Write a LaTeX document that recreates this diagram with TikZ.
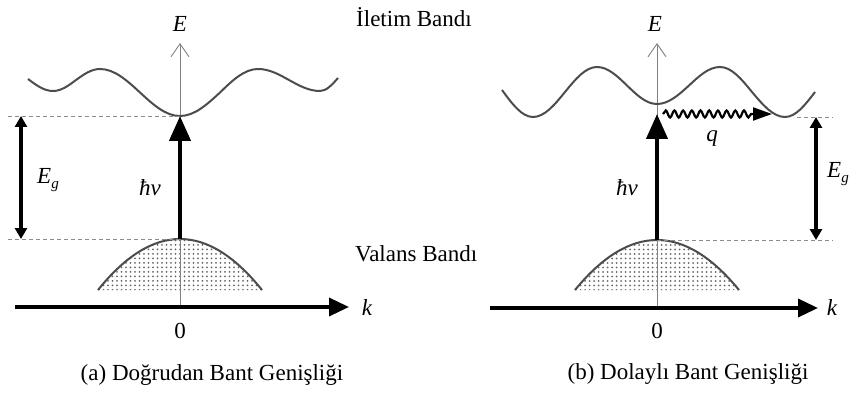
\documentclass[tikz,border=0pt]{standalone}
\usepackage{fontspec}
\setmainfont{Liberation Serif}
\usetikzlibrary{arrows.meta,patterns.meta,decorations.pathmorphing}
\begin{document}
\begin{tikzpicture}[x=1pt,y=-1pt,
  lbl/.style={font=\fontsize{23}{27}\selectfont, inner sep=0pt},
  mlbl/.style={font=\fontsize{23}{27}\selectfont\itshape, inner sep=0pt},
  band/.style={line width=2pt, draw=black!70},
  eaxis/.style={draw=black!50, line width=0.9pt, -{Straight Barb[length=13pt,width=18pt,line width=0.9pt]}},
  kaxis/.style={line width=3.5pt, -{Triangle[length=20pt,width=18pt]}},
  photon/.style={line width=4.2pt, -{Triangle[length=25pt,width=21pt]}},
  gaparrow/.style={line width=3.2pt, {Triangle[length=11pt,width=12pt]}-{Triangle[length=11pt,width=12pt]}},
  level/.style={draw=black!45, line width=0.8pt, dash pattern=on 4pt off 3pt},
  phonon/.style={line width=2.2pt, decorate, decoration={snake, amplitude=3.5pt, segment length=8.7pt, post length=19pt}, -{Triangle[length=19pt,width=13pt]}},
  vbfill/.style={pattern={Dots[distance=4.5pt,radius=1pt]}, pattern color=black!60}
]
\useasboundingbox (0,0) rectangle (851,398);

% ---------------- panel (a) ----------------
\coordinate (a0) at (180,307);
\coordinate (aEtop) at (180,43);
\coordinate (akl) at (15,307);
\coordinate (akr) at (349,307);
\coordinate (acb) at (180,116);
\coordinate (avb) at (180,239);
\coordinate (agT) at (21,116);
\coordinate (agB) at (21,239);
\coordinate (adl1) at (8,116);
\coordinate (adl2) at (8,239);

% valence band
\fill[vbfill] (98,290) .. controls (152.67,222) and (207.33,222) .. (262,290) -- cycle;
\draw[band] (98,290) .. controls (152.67,222) and (207.33,222) .. (262,290);
% E axis
\draw[eaxis] (a0) -- (aEtop);
% conduction band
\draw[band] (28,79) sin (53,91) cos (76,80) sin (100,69) cos (140,92.5) sin (acb)
  cos (220,92.5) sin (258,69) cos (289,80) sin (320,91) cos (338,78);
% levels
\draw[level] (adl1) -- (acb);
\draw[level] (adl2) -- (avb);
% arrows
\draw[gaparrow] (agB) -- (agT);
\draw[photon] (avb) -- (acb);
\draw[kaxis] (akl) -- (akr);

\node[mlbl, anchor=base] (aE) at (180,32) {E};
\node[mlbl, anchor=base] (ak) at (367,315) {k};
\node[lbl, anchor=base] (azero) at (180,338) {0};
\node[mlbl, anchor=base] (ahv) at (150,196) {ħv};
\node[mlbl, anchor=base] (aEg) at (48,184) {E\raisebox{-5pt}{\fontsize{15}{15}\selectfont g}};
\node[lbl, anchor=base west] (cbl) at (356,27) {İletim Bandı};
\node[lbl, anchor=base west] (vbl) at (355,261) {Valans Bandı};
\node[lbl, anchor=base] (capa) at (212,380) {(a) Doğrudan Bant Genişliği};

% ---------------- panel (b) ----------------
\coordinate (b0) at (657,308);
\coordinate (bEtop) at (657,43);
\coordinate (bkl) at (490,308);
\coordinate (bkr) at (818,308);
\coordinate (bcb) at (657,104);
\coordinate (bph) at (657,114);
\coordinate (bvb) at (657,240);
\coordinate (qs) at (663,114);
\coordinate (qe) at (772,114);
\coordinate (bgT) at (816,117);
\coordinate (bgB) at (816,240);
\coordinate (bdl1) at (797,117);
\coordinate (bdr1) at (833,117);
\coordinate (bdr2) at (833,240);

\fill[vbfill] (575,290) .. controls (629.67,223.33) and (684.33,223.33) .. (739,290) -- cycle;
\draw[band] (575,290) .. controls (629.67,223.33) and (684.33,223.33) .. (739,290);
\draw[eaxis] (b0) -- (bEtop);
\draw[band] (502,90) sin (533,117) cos (565,92) sin (597,67) cos (627,85.5) sin (bcb)
  cos (689,85.5) sin (720,67) cos (752,92) sin (785,117) cos (815,92);
\draw[level] (bdl1) -- (bdr1);
\draw[level] (bvb) -- (bdr2);
\draw[gaparrow] (bgB) -- (bgT);
\draw[photon] (bvb) -- (bph);
\draw[phonon] (qs) -- (qe);
\draw[kaxis] (bkl) -- (bkr);

\node[mlbl, anchor=base] (bE) at (655,32) {E};
\node[mlbl, anchor=base] (bk) at (832,315) {k};
\node[lbl, anchor=base] (bzero) at (657,338) {0};
\node[mlbl, anchor=base] (bhv) at (627,196) {ħv};
\node[mlbl, anchor=base] (bq) at (712,142) {q};
\node[mlbl, anchor=base] (bEg) at (838,178) {E\raisebox{-5pt}{\fontsize{15}{15}\selectfont g}};
\node[lbl, anchor=base] (capb) at (688,379) {(b) Dolaylı Bant Genişliği};
\end{tikzpicture}
\end{document}
